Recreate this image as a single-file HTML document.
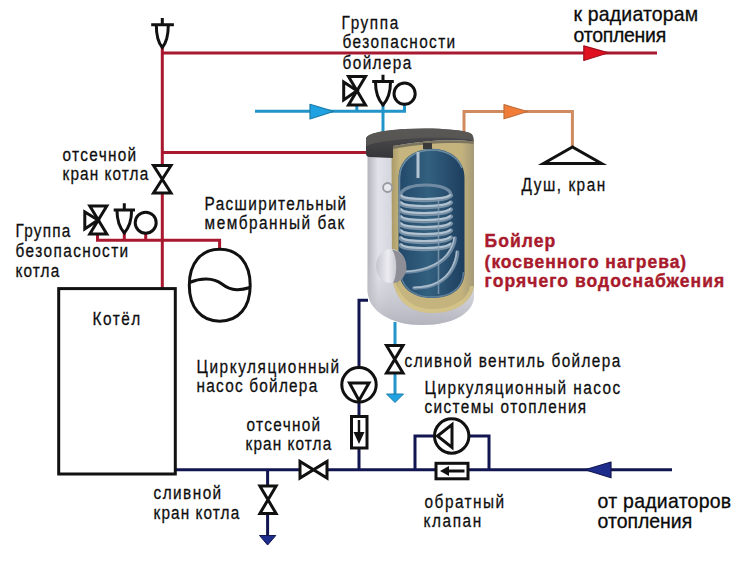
<!DOCTYPE html>
<html><head><meta charset="utf-8">
<style>
html,body{margin:0;padding:0;background:#fff;width:750px;height:561px;overflow:hidden}
svg{display:block;position:absolute;left:0;top:0}
text{font-family:"Liberation Sans",sans-serif;fill:#151515}
.l{font-size:19.2px;fill:#0e0e0e;stroke:#0e0e0e;stroke-width:0.3px}
.b{font-size:20.5px;fill:#0a0a0a;stroke:#0a0a0a;stroke-width:0.3px}
.r{font-size:17.5px;font-weight:bold;fill:#a81a2c;stroke:#a81a2c;stroke-width:0.4px}
</style></head><body>
<svg width="750" height="561" viewBox="0 0 750 561">
<defs>
<linearGradient id="silver" x1="0" x2="1" y1="0" y2="0">
<stop offset="0" stop-color="#b4b4bc"/><stop offset="0.1" stop-color="#e2e2ea"/><stop offset="0.22" stop-color="#d6d6de"/><stop offset="0.6" stop-color="#d0d0d8"/><stop offset="1" stop-color="#e4e4ea"/>
</linearGradient>
<linearGradient id="tank" x1="0" x2="1">
<stop offset="0" stop-color="#22486a"/><stop offset="0.45" stop-color="#33607f"/><stop offset="1" stop-color="#1d3e5e"/>
</linearGradient>
<linearGradient id="silverB" x1="0" x2="0" y1="0" y2="1">
<stop offset="0" stop-color="#d4d4dc" stop-opacity="0"/><stop offset="1" stop-color="#b4b4be"/>
</linearGradient>
<linearGradient id="beige" x1="0" x2="1">
<stop offset="0" stop-color="#a89a68"/><stop offset="0.1" stop-color="#c6b57e"/><stop offset="0.85" stop-color="#c3b27c"/><stop offset="1" stop-color="#a49a78"/>
</linearGradient>
<linearGradient id="cap" x1="0" x2="0" y1="0" y2="1">
<stop offset="0" stop-color="#505052"/><stop offset="1" stop-color="#363638"/>
</linearGradient>
<linearGradient id="flange" x1="0" x2="1">
<stop offset="0" stop-color="#c6c6ce"/><stop offset="0.4" stop-color="#ececf2"/><stop offset="1" stop-color="#9c9ca4"/>
</linearGradient>
</defs>

<!-- RED pipes -->
<g stroke="#a8182e" stroke-width="3" fill="none">
<path d="M162.3 47 V166 M162.3 193 V288"/>
<path d="M162.3 53 H657"/>
<path d="M162.3 152.6 H367"/>
<path d="M97.5 234.5 V240.3 H219.6 V249"/>
<path d="M124.3 232 V240"/>
<path d="M145.7 234 V240"/>
</g>
<polygon points="583.8,45.8 608.5,52.8 583.8,60.5" fill="#e0101e" stroke="#a01020" stroke-width="1.2" stroke-linejoin="round"/>

<!-- light blue pipes -->
<g stroke="#2394c8" stroke-width="3" fill="none">
<path d="M255 111.3 H404.5 V105"/>
<path d="M356.8 105 V111"/>
<path d="M383 104 V133"/>
<path d="M395 322 V345 M395 373 V396"/>
</g>
<polygon points="310,104.3 333.5,111.4 310,119" fill="#20a2e2" stroke="#1b7eaa" stroke-width="1.2" stroke-linejoin="round"/>
<polygon points="386.5,394 395,402.5 403.5,394" fill="#20a2e2" stroke="#1b7eaa" stroke-width="1" stroke-linejoin="round"/>

<!-- orange -->
<path d="M464 134 V111.5 H572.4 V146" stroke="#cf8a5e" stroke-width="3" fill="none"/>
<polygon points="504,104.7 527.5,111.5 504,118.8" fill="#f07c38" stroke="#c0703c" stroke-width="1.2" stroke-linejoin="round"/>

<!-- navy pipes -->
<g stroke="#121650" stroke-width="3" fill="none">
<path d="M176 469.8 H300 M327 469.8 H436 M468 469.8 H672"/>
<path d="M368 300.3 H359 V367 M359 402 V417 M359 447 V470"/>
<path d="M415 470 V436 H435 M469 436 H489 V470"/>
<path d="M267.6 470 V486 M267.6 513.5 V537"/>
</g>
<polygon points="585,469.8 611,462 611,477.8" fill="#1e2c8c" stroke="#121650" stroke-width="1.2" stroke-linejoin="round"/>
<polygon points="259.5,535.5 267.6,545 275.8,535.5" fill="#1e2c8c" stroke="#121650" stroke-width="1" stroke-linejoin="round"/>

<!-- black symbols -->
<g stroke="#111" stroke-width="3" fill="none" stroke-linejoin="miter" stroke-miterlimit="2.5">
<path d="M162.3 18 V25 M151.2 24.7 H173.9 M156.3 25 C156.3 37 158.5 43 162.3 47.5 C166.1 43 168.3 37 168.3 25"/>
<path d="M348.5 76.5 H365.5 L348.5 105.0 H365.5 Z"/>
<path d="M343.7 82 V100 L357 90.8 Z"/>
<path d="M383 74.8 V81.5 M372.2 81.4 H393.8 M375.5 82 C375.5 93 378.5 100 383 105 C387.5 100 390.5 93 390.5 82"/>
<circle cx="404.6" cy="93.7" r="10.6"/>
<path d="M89.8 206.0 H106.8 L89.8 234.0 H106.8 Z"/>
<path d="M84.8 212 V229 L98 220 Z"/>
<path d="M124.3 203.3 V210 M113.7 210 H135 M117 210.5 C117 221 120 228 124.3 233 C128.6 228 131.6 221 131.6 210.5"/>
<circle cx="145.7" cy="222.7" r="10.5"/>
<path d="M153.5 165.5 H171.0 L153.5 193.0 H171.0 Z"/>
<path d="M219.7 249.3 C238.5 249.3 250.2 263 250.2 285.2 C250.2 307.5 238.5 321.2 219.7 321.2 C201 321.2 189.3 307.5 189.3 285.2 C189.3 263 201 249.3 219.7 249.3 Z"/>
<path d="M189.5 282.5 C200 278 213 277 222 284 C232 292 242 290 250 287.5"/>
<rect x="58.7" y="288.6" width="116.6" height="185.4"/>
<circle cx="359" cy="384.8" r="17.2"/>
<path d="M349.5 383 H369 L359 400.5 Z"/>
<rect x="351.5" y="416.5" width="15.5" height="31.5"/>
<path d="M386.5 345.5 H403.0 L386.5 373.0 H403.0 Z"/>
<circle cx="451.7" cy="436" r="17.2"/>
<path d="M437.5 436 L452 424.5 V447.5 Z"/>
<rect x="436" y="463.3" width="32" height="15.5"/>
<path d="M300.0 461.5 V478.0 L327.0 461.5 V478.0 Z"/>
<path d="M259.9 486.1 H276.1 L259.9 513.5 H276.1 Z"/>
</g>

<!-- check valve arrows -->
<path d="M359 420 V434" stroke="#111" stroke-width="2.5"/>
<polygon points="353.5,432 364.5,432 359,444" fill="#111"/>
<path d="M447 471 H464.5" stroke="#111" stroke-width="3"/>
<polygon points="440,471 449,466 449,476" fill="#111"/>

<!-- BOILER -->
<g id="boiler">
<path d="M367.5 140 L367.5 290 C368 312 392 325 422 325 C452 325 472 314 474 298 L474 140 Z" fill="url(#silver)"/>
<path d="M367.5 262 L367.5 290 C368 312 392 325 422 325 C452 325 472 314 474 298 L474 262 Z" fill="url(#silverB)"/>
<path d="M391.5 146 L474 140 L474 286 C472 302 455 313 432 313 C412 313 393 302 392 272 Z" fill="url(#beige)"/>
<path d="M474 286 C472 302 455 313 432 313 C412 313 393 302 392 272 L394 272 C396 298 414 309 432 309 C452 309 468 300 470 286 Z" fill="#dccb8e" opacity="0.7"/>
<path d="M398.5 178 C398.5 160 414 148.8 432 148.8 C450 148.8 464.5 160 464.5 178 L464.5 272 C464.5 288 452 298 432 298 C413 298 398.5 288 398.5 268 Z" fill="url(#tank)"/>
<path d="M399.5 230 L399.5 178 C399.5 161 414 150 432 150 C446 150 458 157 462 168" stroke="#7896ac" stroke-width="1.6" fill="none" opacity="0.85"/>
<path d="M400 268 C400 288 414 297 432 297 C450 297 463 289 463.5 272" stroke="#6a8aa2" stroke-width="1.6" fill="none" opacity="0.8"/>
<path d="M418 152 V178" stroke="#b4c4d2" stroke-width="3"/>
<g fill="none" stroke-linecap="round">
<path d="M401 195 C401 188 414 185 426 185 C440 185 451 189 451 195" stroke="#6f8aa2" stroke-width="3.2"/>
<path d="M400.5 196 C402 201.5 446 201.5 451 195.5" stroke="#7890a6" stroke-width="4.2"/>
<path d="M401.5 195.5 C404 200.2 445 200.2 450 195" stroke="#b2c4d2" stroke-width="2"/>
<path d="M400.5 203 C402 208.5 446 208.5 451 202.5" stroke="#7890a6" stroke-width="4.2"/>
<path d="M401.5 202.5 C404 207.2 445 207.2 450 202" stroke="#b2c4d2" stroke-width="2"/>
<path d="M400.5 210 C402 215.5 446 215.5 451 209.5" stroke="#7890a6" stroke-width="4.2"/>
<path d="M401.5 209.5 C404 214.2 445 214.2 450 209" stroke="#b2c4d2" stroke-width="2"/>
<path d="M400.5 217 C402 222.5 446 222.5 451 216.5" stroke="#7890a6" stroke-width="4.2"/>
<path d="M401.5 216.5 C404 221.2 445 221.2 450 216" stroke="#b2c4d2" stroke-width="2"/>
<path d="M400.5 224 C402 229.5 446 229.5 451 223.5" stroke="#7890a6" stroke-width="4.2"/>
<path d="M401.5 223.5 C404 228.2 445 228.2 450 223" stroke="#b2c4d2" stroke-width="2"/>
<path d="M400.5 231 C402 236.5 446 236.5 451 230.5" stroke="#7890a6" stroke-width="4.2"/>
<path d="M401.5 230.5 C404 235.2 445 235.2 450 230" stroke="#b2c4d2" stroke-width="2"/>
<path d="M400.5 238 C402 243.5 446 243.5 451 237.5" stroke="#7890a6" stroke-width="4.2"/>
<path d="M401.5 237.5 C404 242.2 445 242.2 450 237" stroke="#b2c4d2" stroke-width="2"/>
<path d="M400.5 245 C402 250.5 446 250.5 451 244.5" stroke="#7890a6" stroke-width="4.2"/>
<path d="M401.5 244.5 C404 249.2 445 249.2 450 244" stroke="#b2c4d2" stroke-width="2"/>
<path d="M404 272 C420 272 438 267 448 255 C453 248 455 243 455 238" stroke="#6c87a0" stroke-width="3.6"/>
<path d="M404 271.5 C420 271.5 437 266.5 447 254.5 C452 247.5 454 242.5 454 237.5" stroke="#a9bccc" stroke-width="1.6"/>
<path d="M414 288 C432 288 446 281 453 268 C456 262 457.5 257 457.5 252" stroke="#6c87a0" stroke-width="3.6"/>
<path d="M414 287.5 C432 287.5 445 280.5 452 267.5 C455 261.5 456.5 256.5 456.5 251.5" stroke="#a9bccc" stroke-width="1.6"/>
</g>
<path d="M438.5 200 V294" stroke="#8aa2b6" stroke-width="1.6" opacity="0.75"/>
<path d="M366 139 C366 134 380 130.5 405 129 C430 127.5 460 129 470 133 C473 134.5 473.5 137 473.5 140 L473.5 141.5 C455 139 425 140 393 146 L393 158 L369 157 C367 156.5 366 155.5 366 154 Z" fill="url(#cap)"/>
<path d="M366 139 C366 134 380 130.5 405 129 C430 127.5 460 129 470 133 C473 134.5 473.5 137 473.5 140 C455 137.5 425 137 405 139 C385 141 372 143 366 146 Z" fill="#5c5a56" opacity="0.8"/>
<path d="M393 146 C425 140 455 139 473.5 141.5 L473.5 144 C455 142 425 143 393 149 Z" fill="#7c7660"/>
<rect x="423" y="143" width="9" height="6" fill="#3a3a3a"/>
<ellipse cx="391" cy="266" rx="15" ry="17" fill="url(#flange)"/>
<path d="M392 249.5 C401 251 406.5 259 406.5 267 C406.5 276 400 283 393 283 C397 276 398 258 392 249.5 Z" fill="#8e8e96"/>
<circle cx="387.6" cy="187.5" r="4.5" fill="#e8e8ee" stroke="#9a9aa2" stroke-width="1.8"/>
</g>
<!-- shower -->
<path d="M572.4 147 L543.5 163.5 H601.5 Z" stroke="#111" stroke-width="3" fill="none" stroke-linejoin="miter" stroke-miterlimit="10"/>

<!-- TEXT -->
<text class="l" transform="translate(341.60,28.8) scale(0.8,1)" textLength="70.75" lengthAdjust="spacing">Группа</text>
<text class="l" transform="translate(342.60,48.2) scale(0.8,1)" textLength="140.75" lengthAdjust="spacing">безопасности</text>
<text class="l" transform="translate(342.60,69) scale(0.8,1)" textLength="85.75" lengthAdjust="spacing">бойлера</text>
<text class="l" transform="translate(62.60,161) scale(0.8,1)" textLength="92.00" lengthAdjust="spacing">отсечной</text>
<text class="l" transform="translate(62.60,180) scale(0.8,1)" textLength="107.00" lengthAdjust="spacing">кран котла</text>
<text class="l" transform="translate(204.60,210) scale(0.8,1)" textLength="177.00" lengthAdjust="spacing">Расширительный</text>
<text class="l" transform="translate(204.60,229.2) scale(0.8,1)" textLength="174.50" lengthAdjust="spacing">мембранный бак</text>
<text class="l" transform="translate(15.60,237) scale(0.8,1)" textLength="68.25" lengthAdjust="spacing">Группа</text>
<text class="l" transform="translate(15.60,257.4) scale(0.8,1)" textLength="140.75" lengthAdjust="spacing">безопасности</text>
<text class="l" transform="translate(15.60,277.4) scale(0.8,1)" textLength="54.50" lengthAdjust="spacing">котла</text>
<text class="l" transform="translate(92.60,325.2) scale(0.8,1)" textLength="59.50" lengthAdjust="spacing">Котёл</text>
<text class="l" transform="translate(521.60,190.9) scale(0.8,1)" textLength="104.50" lengthAdjust="spacing">Душ, кран</text>
<text class="l" transform="translate(196.60,372.7) scale(0.8,1)" textLength="178.25" lengthAdjust="spacing">Циркуляционный</text>
<text class="l" transform="translate(196.60,392) scale(0.8,1)" textLength="150.75" lengthAdjust="spacing">насос бойлера</text>
<text class="l" transform="translate(404.60,367) scale(0.8,1)" textLength="269.50" lengthAdjust="spacing">сливной вентиль бойлера</text>
<text class="l" transform="translate(424.60,393.6) scale(0.8,1)" textLength="244.50" lengthAdjust="spacing">Циркуляционный насос</text>
<text class="l" transform="translate(424.60,412.8) scale(0.8,1)" textLength="202.00" lengthAdjust="spacing">системы отопления</text>
<text class="l" transform="translate(246.60,430.5) scale(0.8,1)" textLength="92.00" lengthAdjust="spacing">отсечной</text>
<text class="l" transform="translate(245.60,450.2) scale(0.8,1)" textLength="107.00" lengthAdjust="spacing">кран котла</text>
<text class="l" transform="translate(153.60,499) scale(0.8,1)" textLength="84.50" lengthAdjust="spacing">сливной</text>
<text class="l" transform="translate(153.60,518.5) scale(0.8,1)" textLength="107.00" lengthAdjust="spacing">кран котла</text>
<text class="l" transform="translate(424.60,508) scale(0.8,1)" textLength="99.50" lengthAdjust="spacing">обратный</text>
<text class="l" transform="translate(423.60,527.2) scale(0.8,1)" textLength="72.00" lengthAdjust="spacing">клапан</text>
<text class="b" transform="translate(573.60,21.4) scale(0.95,1)" textLength="131.16" lengthAdjust="spacing">к радиаторам</text>
<text class="b" transform="translate(573.60,41.7) scale(0.95,1)" textLength="97.47" lengthAdjust="spacing">отопления</text>
<text class="b" transform="translate(597.60,508) scale(0.95,1)" textLength="140.63" lengthAdjust="spacing">от радиаторов</text>
<text class="b" transform="translate(597.60,528.4) scale(0.95,1)" textLength="99.58" lengthAdjust="spacing">отопления</text>
<text class="r" transform="translate(484.60,247) scale(1.0,1)" textLength="70.60" lengthAdjust="spacing">Бойлер</text>
<text class="r" transform="translate(484.60,268) scale(1.0,1)" textLength="201.60" lengthAdjust="spacing">(косвенного нагрева)</text>
<text class="r" transform="translate(484.60,286.6) scale(1.0,1)" textLength="239.60" lengthAdjust="spacing">горячего водоснабжения</text>
</svg>
</body></html>
